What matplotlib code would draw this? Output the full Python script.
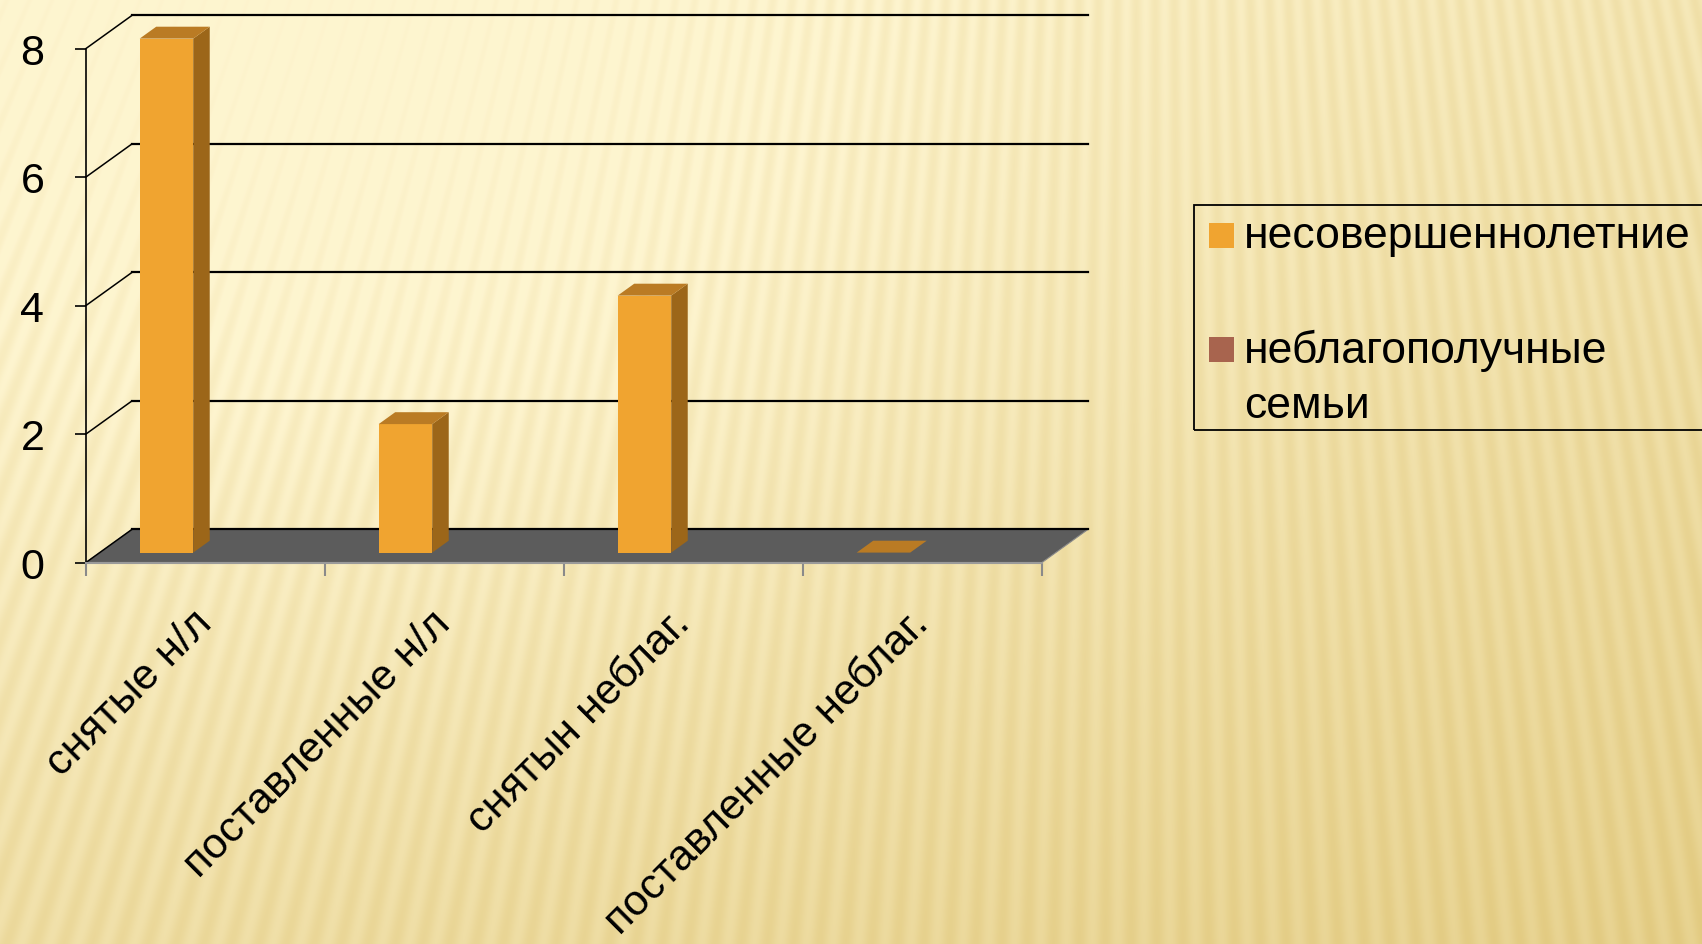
import numpy as np
import matplotlib.pyplot as plt
from matplotlib.patches import Polygon, Rectangle

categories = ['снятые н/л', 'поставленные н/л', 'снятын неблаг.', 'поставленные неблаг.']
minors = [8, 2, 4, 0]                  # несовершеннолетние
families = [np.nan] * 4                # неблагополучные семьи (no values)
series_names = ['несовершеннолетние', 'неблагополучные\nсемьи']
series_colors = ['#F0A430', '#A8644E']
y_ticks = [0, 2, 4, 6, 8]

plt.rcParams['font.family'] = ['Liberation Sans', 'DejaVu Sans']

W_PX, H_PX = 1702, 945
fig = plt.figure(figsize=(W_PX / 100, H_PX / 100), dpi=100)

# background: warm gradient with fan of thin stripes
yy, xx = np.mgrid[0:H_PX, 0:W_PX].astype(float)
tone = 0.10 + 0.50 * (yy / H_PX) + 0.30 * (xx / W_PX)
tone -= 0.30 * np.exp(-(((xx - 450) / 650) ** 2 + ((yy - 250) / 500) ** 2))
ang = np.arctan2(xx - 1150, yy + 2600)
tone += 0.10 * np.sin(ang * 2 * np.pi / 0.0073)
tone = np.clip(tone, 0, 1)
light = np.array([254, 245, 208]) / 255
dark = np.array([226, 202, 128]) / 255
bg = light + tone[..., None] * (dark - light)
bg_ax = fig.add_axes([0, 0, 1, 1], zorder=-10)
bg_ax.imshow(bg, aspect='auto')
bg_ax.axis('off')

ax = fig.add_axes([86 / W_PX, 1 - 563.5 / H_PX, 956 / W_PX, 514 / H_PX])
ax.patch.set_visible(False)
ax.set_xlim(-0.5, 3.5)
ax.set_ylim(0, 8)

DX, DY = 0.192, 0.514      # depth of the chart box in data units
x = np.arange(len(categories))

# back wall gridlines and side wall lines
for v in y_ticks:
    ax.plot([-0.5 + DX, 3.5 + DX], [v + DY, v + DY], color='black', lw=1.6,
            clip_on=False, zorder=3 if v == 0 else 1)
    ax.plot([-0.5, -0.5 + DX], [v, v + DY], color='black', lw=1.1, clip_on=False, zorder=3)

# floor
ax.add_patch(Polygon([(-0.5, 0), (3.5, 0), (3.5 + DX, DY), (-0.5 + DX, DY)],
                     closed=True, fc='#5C5C5C', ec='#8a8a8a', lw=0.8, clip_on=False, zorder=2))

# bars with pseudo-3D faces
bw, off = 0.224, -0.221
f0, f1 = 0.30, 0.66
dx, dy = (f1 - f0) * DX, (f1 - f0) * DY
bars = ax.bar(x + off + f0 * DX, minors, width=bw, bottom=f0 * DY, color=series_colors[0],
              lw=0, zorder=5)
for b in bars:
    b.set_clip_on(False)
for xi, v in zip(x, minors):
    xl = xi + off + f0 * DX - bw / 2
    xr = xl + bw
    yb = f0 * DY
    ax.add_patch(Polygon([(xr, yb), (xr + dx, yb + dy), (xr + dx, yb + dy + v), (xr, yb + v)],
                         closed=True, fc='#9C6619', lw=0, zorder=5, clip_on=False))
    ax.add_patch(Polygon([(xl, yb + v), (xr, yb + v), (xr + dx, yb + dy + v), (xl + dx, yb + dy + v)],
                         closed=True, fc='#BA7B24', lw=0, zorder=5, clip_on=False))

# axes styling
for s in ['top', 'right']:
    ax.spines[s].set_visible(False)
ax.spines['left'].set_color('black')
ax.spines['left'].set_linewidth(1.2)
ax.spines['left'].set_zorder(3)
ax.spines['bottom'].set_color('#9a9a9a')
ax.spines['bottom'].set_linewidth(1.5)
ax.spines['bottom'].set_zorder(3)

ax.set_yticks(y_ticks)
ax.tick_params(axis='y', direction='out', length=8, width=1.2, color='black',
               labelsize=31, pad=22)

ax.set_xticks(x)
ax.set_xticklabels(categories)
ax.set_xticks([-0.5, 0.5, 1.5, 2.5, 3.5], minor=True)
ax.tick_params(axis='x', which='major', length=0, labelsize=31, pad=39)
ax.tick_params(axis='x', which='minor', direction='out', length=9, width=1.5, color='#8a8a8a')
plt.setp(ax.get_xticklabels(), rotation=45, ha='right', va='center', rotation_mode='anchor')

# legend box drawn by hand, it runs off the right edge
fig.add_artist(Rectangle((1194 / W_PX, 1 - 431 / H_PX), 560 / W_PX, 225 / H_PX,
                         transform=fig.transFigure, fill=False, ec='black', lw=1.3))
sq_y = [224, 338]
txt_base = [248, 363]
for name, col, sy, ty in zip(series_names, series_colors, sq_y, txt_base):
    fig.add_artist(Rectangle((1209 / W_PX, 1 - (sy + 25) / H_PX), 25 / W_PX, 25 / H_PX,
                             transform=fig.transFigure, fc=col, lw=0))
    lines = name.split('\n')
    for i, ln in enumerate(lines):
        fig.text(1244 / W_PX, 1 - (ty + 55 * i) / H_PX, ln, fontsize=32,
                 ha='left', va='baseline')

fig.savefig('out.png', dpi=100)
